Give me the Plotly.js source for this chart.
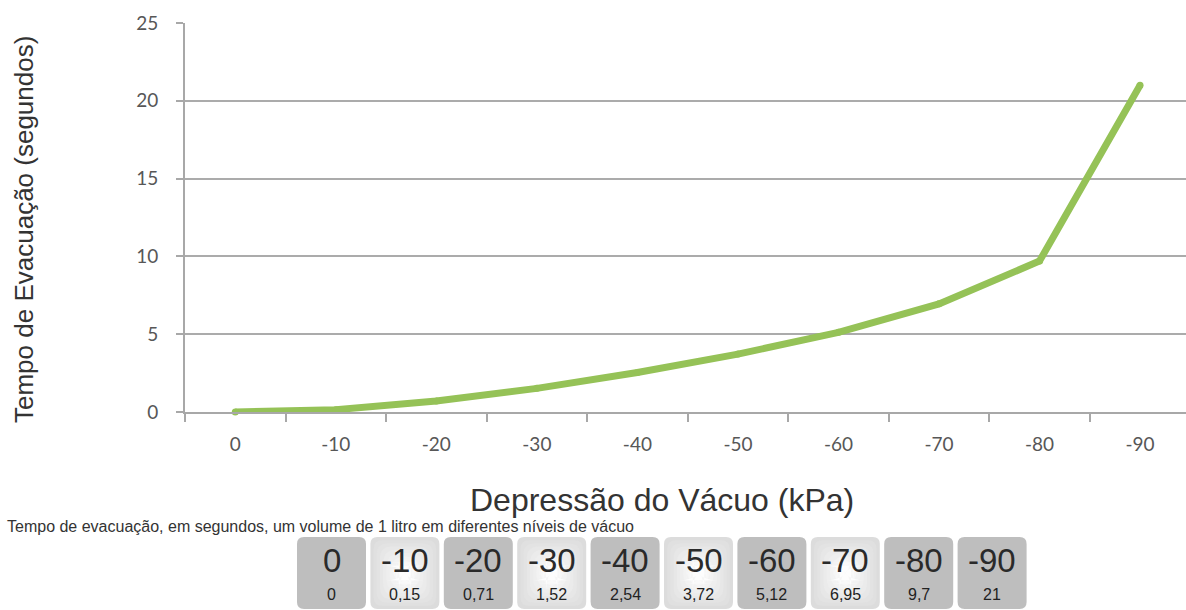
<!DOCTYPE html>
<html><head><meta charset="utf-8">
<script src="https://cdn.plot.ly/plotly-3.0.1.min.js"></script>
<style>html,body{margin:0;padding:0;background:#fff;}#chart{width:1186px;height:610px;}</style>
</head><body><div id="chart"></div>
<script>
// ---- data ----
const categories = ['0','-10','-20','-30','-40','-50','-60','-70','-80','-90'];
const evacTime = [0, 0.15, 0.71, 1.52, 2.54, 3.72, 5.12, 6.95, 9.7, 21];
const tableLabels = ['0','-10','-20','-30','-40','-50','-60','-70','-80','-90'];
const tableValues = ['0','0,15','0,71','1,52','2,54','3,72','5,12','6,95','9,7','21'];
const yTickVals = [0, 5, 10, 15, 20, 25];
const yTitle = 'Tempo de Evacuação (segundos)';
const xTitle = 'Depressão do Vácuo (kPa)';
const caption = 'Tempo de evacuação, em segundos, um volume de 1 litro em diferentes níveis de vácuo';
// cell look (style, not data)
const cellStyle = ['dark','light','dark','light','dark','light','dark','light','dark','dark'];

// ---- geometry helpers ----
const W = 1186, H = 610, ML = 185, MR = 0, MT = 23, MB = 198;
const PW = W - ML - MR, PH = H - MT - MB;
const px = x => (x - ML) / PW;
const py = y => (H - MB - y) / PH;
function P(x, y) { return px(x).toFixed(5) + ',' + py(y).toFixed(5); }
function rrect(x0, y0, x1, y1, r) {
  return 'M' + P(x0 + r, y0) + ' L' + P(x1 - r, y0) + ' Q' + P(x1, y0) + ' ' + P(x1, y0 + r) +
    ' L' + P(x1, y1 - r) + ' Q' + P(x1, y1) + ' ' + P(x1 - r, y1) +
    ' L' + P(x0 + r, y1) + ' Q' + P(x0, y1) + ' ' + P(x0, y1 - r) +
    ' L' + P(x0, y0 + r) + ' Q' + P(x0, y0) + ' ' + P(x0 + r, y0) + ' Z';
}

const shapes = [];
const annotations = [];
const cellX0 = 297, cellPitch = 73.4, cellW = 69, cellTop = 537, cellBot = 609, rad = 7;
function hex(v) { const h = Math.round(v).toString(16).padStart(2, '0'); return '#' + h + h + h; }
tableLabels.forEach((lab, i) => {
  const x0 = cellX0 + i * cellPitch, x1 = x0 + cellW;
  if (cellStyle[i] === 'dark') {
    shapes.push({type: 'path', xref: 'paper', yref: 'paper', path: rrect(x0, cellTop, x1, cellBot, rad),
      fillcolor: '#bebebe', line: {width: 0}, layer: 'above'});
  } else {
    const steps = 10;
    for (let k = 0; k < steps; k++) {
      const d = k * 3.2;
      const c = 0xdc + (0xfd - 0xdc) * (k / (steps - 1));
      shapes.push({type: 'path', xref: 'paper', yref: 'paper',
        path: rrect(x0 + d, cellTop + d, x1 - d, cellBot - d, Math.max(rad - d * 0.3, 2) + d * 0.8),
        fillcolor: hex(c), line: {width: 0}, layer: 'above'});
    }
  }
  annotations.push({xref: 'paper', yref: 'paper', x: px(x0 + cellW / 2), y: py(560), text: lab,
    showarrow: false, xanchor: 'center', yanchor: 'middle',
    font: {family: 'Liberation Sans, Arial, sans-serif', size: 33, color: '#2a2a2a'}});
  annotations.push({xref: 'paper', yref: 'paper', x: px(x0 + cellW / 2), y: py(594), text: tableValues[i],
    showarrow: false, xanchor: 'center', yanchor: 'middle',
    font: {family: 'Liberation Sans, Arial, sans-serif', size: 16, color: '#222'}});
});

annotations.push({xref: 'paper', yref: 'paper', x: px(24), y: py(230), text: yTitle, textangle: -90,
  showarrow: false, xanchor: 'center', yanchor: 'middle',
  font: {family: 'Liberation Sans, Arial, sans-serif', size: 26, color: '#333'}});
annotations.push({xref: 'paper', yref: 'paper', x: px(662), y: py(500), text: xTitle,
  showarrow: false, xanchor: 'center', yanchor: 'middle',
  font: {family: 'Liberation Sans, Arial, sans-serif', size: 32, color: '#333'}});
annotations.push({xref: 'paper', yref: 'paper', x: px(5), y: py(526), text: caption,
  showarrow: false, xanchor: 'left', yanchor: 'middle',
  font: {family: 'Liberation Sans, Arial, sans-serif', size: 16, color: '#333'}});

const trace = {
  x: categories, y: evacTime, type: 'scatter', mode: 'lines+markers',
  line: {color: '#95c257', width: 7},
  marker: {color: '#95c257', size: 7},
  hoverinfo: 'skip', cliponaxis: false
};

const layout = {
  width: W, height: H,
  margin: {l: ML, r: MR, t: MT, b: MB, pad: 0},
  paper_bgcolor: '#ffffff', plot_bgcolor: '#ffffff',
  showlegend: false,
  xaxis: {
    type: 'category', range: [-0.5, 9.457], fixedrange: true,
    showgrid: false, zeroline: false,
    showline: true, linecolor: '#a8a8a8', linewidth: 2,
    ticks: 'outside', tickson: 'boundaries', ticklen: 8, tickcolor: '#a8a8a8', tickwidth: 2,
    ticklabelstandoff: 14,
    tickfont: {family: 'Lato, Carlito, sans-serif', size: 19, color: '#575757'}
  },
  yaxis: {
    range: [0, 25], tickvals: yTickVals, fixedrange: true,
    showgrid: true, gridcolor: '#ababab', gridwidth: 2,
    zeroline: false,
    showline: true, linecolor: '#a8a8a8', linewidth: 2,
    ticks: 'outside', ticklen: 7, tickcolor: '#a8a8a8', tickwidth: 2,
    ticklabelstandoff: 14,
    tickfont: {family: 'Lato, Carlito, sans-serif', size: 19, color: '#575757'}
  },
  shapes: shapes,
  annotations: annotations
};

Plotly.newPlot('chart', [trace], layout, {displayModeBar: false, staticPlot: true});
</script>
</body></html>
